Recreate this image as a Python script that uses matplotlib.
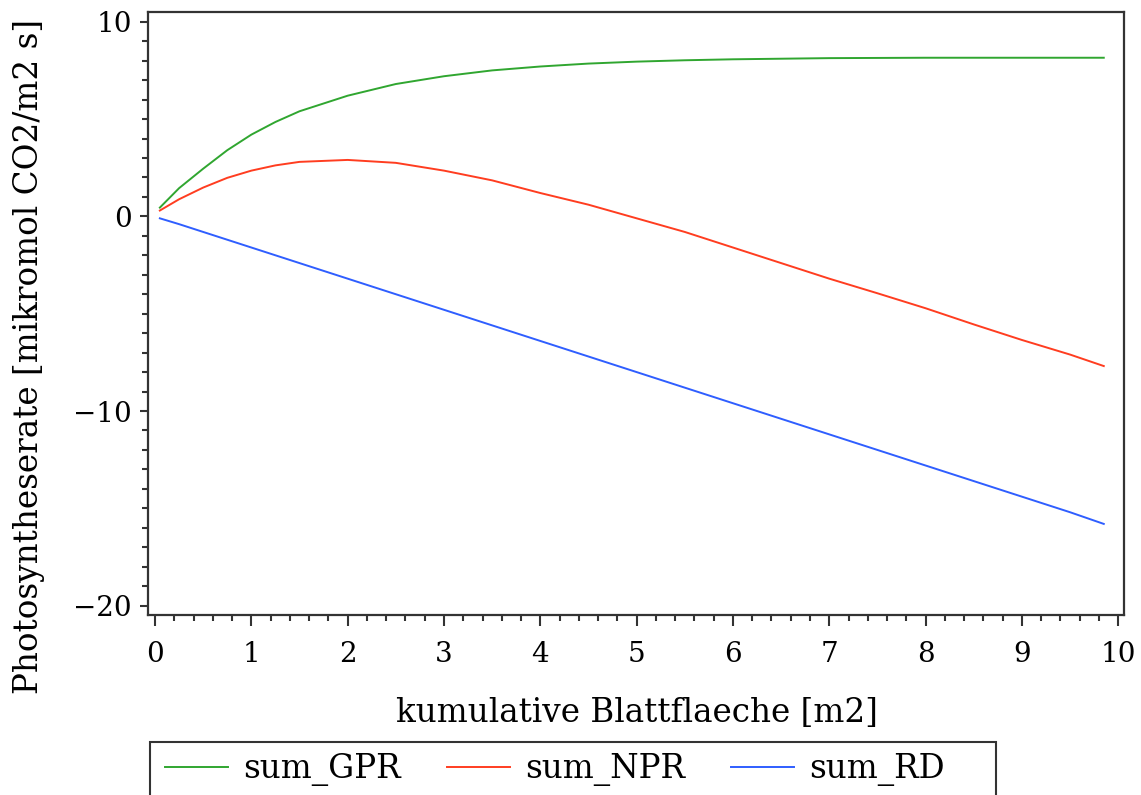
import matplotlib.pyplot as plt
from matplotlib.patches import Rectangle
from matplotlib.ticker import MultipleLocator

# kumulative Blattflaeche [m2]
blattflaeche = [0.05, 0.25, 0.5, 0.75, 1.0, 1.25, 1.5, 2.0, 2.5, 3.0, 3.5, 4.0,
                4.5, 5.0, 5.5, 6.0, 6.5, 7.0, 7.5, 8.0, 8.5, 9.0, 9.5, 9.85]
sum_gpr = [0.45, 1.45, 2.45, 3.4, 4.2, 4.85, 5.4, 6.2, 6.8, 7.2, 7.5, 7.7,
           7.85, 7.95, 8.02, 8.07, 8.1, 8.13, 8.14, 8.15, 8.15, 8.15, 8.15, 8.15]
sum_npr = [0.3, 0.88, 1.48, 1.98, 2.35, 2.62, 2.8, 2.9, 2.75, 2.35, 1.85, 1.2,
           0.6, -0.1, -0.8, -1.6, -2.4, -3.2, -3.95, -4.72, -5.55, -6.35, -7.1, -7.69]
sum_rd = [-0.1, -0.4, -0.8, -1.2, -1.6, -2.0, -2.4, -3.2, -4.0, -4.8, -5.6, -6.4,
          -7.2, -8.0, -8.8, -9.6, -10.4, -11.2, -12.0, -12.8, -13.6, -14.4, -15.2, -15.8]

plt.rcParams["font.family"] = "DejaVu Serif"
W, H = 1141, 795

fig = plt.figure(figsize=(W / 100, H / 100), dpi=100)
ax = fig.add_axes([148 / W, 1 - 615 / H, (1124 - 148) / W, (615 - 12) / H])

ax.plot(blattflaeche, sum_gpr, color="#30a630", lw=1.4, label="sum_GPR")
ax.plot(blattflaeche, sum_npr, color="#ff3d20", lw=1.4, label="sum_NPR")
ax.plot(blattflaeche, sum_rd, color="#2f5eff", lw=1.4, label="sum_RD")

ax.set_xlim(-0.073, 10.06)
ax.set_ylim(-20.48, 10.5)
ax.xaxis.set_major_locator(MultipleLocator(1))
ax.xaxis.set_minor_locator(MultipleLocator(0.2))
ax.yaxis.set_major_locator(MultipleLocator(10))
ax.yaxis.set_minor_locator(MultipleLocator(1))

for s in ax.spines.values():
    s.set_color("#333333")
    s.set_linewidth(1.6)

ax.tick_params(axis="x", which="major", length=8, width=1.5, pad=11,
               labelsize=20, color="#333333")
ax.tick_params(axis="x", which="minor", length=4.5, width=1.5, color="#333333")
ax.tick_params(axis="y", which="major", length=5.5, width=1.5, pad=6,
               labelsize=20, color="#333333")
ax.tick_params(axis="y", which="minor", length=4, width=1.5, color="#333333")

ax.set_xlabel("kumulative Blattflaeche [m2]", fontsize=23.5)
ax.xaxis.set_label_coords((637 - 148) / 976, -(722 - 615) / 603)
ax.xaxis.label.set_va("baseline")
ax.set_ylabel("Photosyntheserate [mikromol CO2/m2 s]", fontsize=23.5)
ax.yaxis.set_label_coords(-(148 - 45) / 976, (615 - 357) / 603)

fig.patches.append(Rectangle((150 / W, -0.02), (996 - 150) / W, (795 - 742) / H + 0.02,
                             transform=fig.transFigure, fill=False,
                             edgecolor="#333333", lw=1.5))
fig.legend(loc="center left", bbox_to_anchor=(165 / W, 1 - 770 / H),
           ncol=3, frameon=False, fontsize=23.5, handlelength=1.93,
           handletextpad=0.46, columnspacing=1.42, borderpad=0, borderaxespad=0)

fig.savefig("out.png", dpi=100)
